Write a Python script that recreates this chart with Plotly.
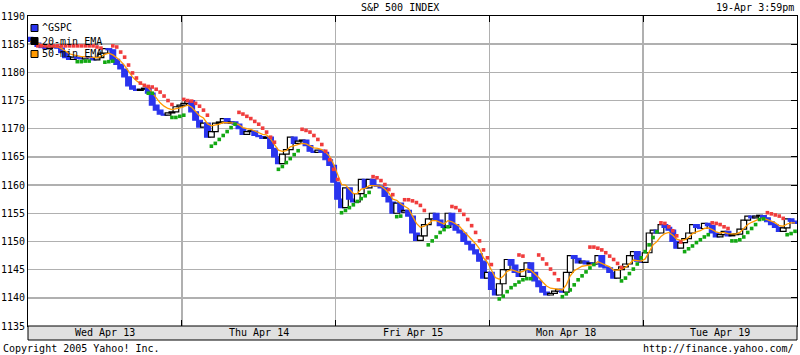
import plotly.graph_objects as go

# ---------------- data ----------------
day_labels = ["Wed Apr 13", "Thu Apr 14", "Fri Apr 15", "Mon Apr 18", "Tue Apr 19"]
bars_per_day = 39
y_ticks = [1135, 1140, 1145, 1150, 1155, 1160, 1165, 1170, 1175, 1180, 1185, 1190]

first_open = 1186.2
close_wed = [1185.5, 1185.2, 1184.6, 1184.4, 1184.2, 1184.5, 1184.6, 1184.3, 1183.5, 1182.6,
             1182.3, 1182.7, 1182.5, 1182.4, 1182.8, 1182.6, 1182.2, 1182.6, 1183.4, 1184.2,
             1184.0, 1182.3, 1181.4, 1180.6, 1179.2, 1177.6, 1177.0, 1176.8, 1177.0, 1177.2,
             1176.3, 1174.2, 1173.3, 1172.6, 1172.4, 1172.8, 1173.0, 1173.9, 1174.2]
close_thu = [1174.5, 1175.0, 1173.0, 1171.5, 1170.3, 1171.0, 1168.5, 1169.5, 1171.0, 1171.2,
             1171.8, 1171.0, 1171.2, 1170.8, 1170.0, 1169.0, 1169.5, 1169.6, 1168.8, 1168.6,
             1168.3, 1168.5, 1166.5, 1165.0, 1163.8, 1165.5, 1166.3, 1168.5, 1167.4, 1167.8,
             1168.0, 1167.0, 1166.0, 1165.8, 1166.2, 1165.8, 1164.5, 1163.5, 1160.5]
close_fri = [1157.5, 1156.0, 1159.5, 1157.5, 1157.0, 1158.5, 1161.0, 1159.5, 1161.0, 1160.0,
             1159.8, 1159.5, 1158.0, 1157.0, 1155.0, 1156.8, 1155.2, 1155.5, 1154.5, 1151.5,
             1150.2, 1151.0, 1153.0, 1154.0, 1155.0, 1153.8, 1152.8, 1152.5, 1155.0, 1153.0,
             1152.0, 1151.5, 1150.0, 1149.5, 1148.5, 1147.8, 1146.5, 1143.5, 1144.5]
close_mon = [1141.5, 1140.5, 1142.5, 1145.0, 1146.8, 1145.8, 1144.5, 1143.8, 1145.0, 1146.2,
             1144.5, 1143.0, 1142.0, 1141.0, 1140.5, 1140.8, 1141.2, 1141.5, 1141.0, 1144.5,
             1147.5, 1147.0, 1146.2, 1146.5, 1146.0, 1146.2, 1146.0, 1147.5, 1145.5, 1145.3,
             1144.5, 1143.5, 1145.0, 1145.5, 1146.0, 1147.5, 1148.2, 1146.5, 1146.3]
close_tue = [1148.0, 1151.5, 1152.0, 1151.5, 1153.0, 1152.5, 1152.0, 1150.0, 1148.8, 1149.8,
             1150.5, 1151.5, 1153.0, 1152.5, 1152.3, 1153.2, 1152.8, 1151.5, 1150.8, 1151.2,
             1151.8, 1151.0, 1151.2, 1151.3, 1152.2, 1153.8, 1154.5, 1154.2, 1154.5, 1154.6,
             1154.2, 1153.5, 1153.0, 1152.5, 1151.8, 1152.4, 1154.0, 1153.6, 1153.2]

ema_wed = [1185.5, 1185.4, 1185.2, 1184.9, 1184.7, 1184.6, 1184.6, 1184.5, 1184.2, 1183.7,
           1183.3, 1183.1, 1182.9, 1182.8, 1182.8, 1182.7, 1182.6, 1182.6, 1182.8, 1183.2,
           1183.4, 1183.1, 1182.6, 1182.0, 1181.2, 1180.1, 1179.2, 1178.5, 1178.0, 1177.8,
           1177.3, 1176.4, 1175.5, 1174.6, 1174.0, 1173.6, 1173.4, 1173.5, 1173.7]
ema_thu = [1173.9, 1174.2, 1173.8, 1173.1, 1172.3, 1171.9, 1170.9, 1170.5, 1170.6, 1170.8,
           1171.1, 1171.1, 1171.1, 1171.0, 1170.7, 1170.2, 1170.0, 1169.9, 1169.6, 1169.3,
           1169.0, 1168.9, 1168.2, 1167.2, 1166.2, 1166.0, 1166.1, 1166.8, 1167.0, 1167.2,
           1167.4, 1167.3, 1166.9, 1166.6, 1166.5, 1166.3, 1165.8, 1165.1, 1163.7]
ema_fri = [1161.8, 1160.1, 1160.0, 1159.2, 1158.5, 1158.5, 1159.3, 1159.4, 1159.9, 1159.9,
           1159.9, 1159.8, 1159.3, 1158.6, 1157.5, 1157.3, 1156.7, 1156.3, 1155.8, 1154.5,
           1153.2, 1152.5, 1152.7, 1153.1, 1153.7, 1153.7, 1153.4, 1153.1, 1153.7, 1153.5,
           1153.1, 1152.6, 1151.8, 1151.1, 1150.3, 1149.6, 1148.7, 1147.1, 1146.3]
ema_mon = [1144.9, 1143.6, 1143.3, 1143.8, 1144.7, 1145.0, 1144.8, 1144.5, 1144.7, 1145.1,
           1144.9, 1144.3, 1143.6, 1142.8, 1142.1, 1141.7, 1141.6, 1141.6, 1141.4, 1142.3,
           1143.9, 1144.8, 1145.2, 1145.6, 1145.7, 1145.8, 1145.9, 1146.4, 1146.1, 1145.9,
           1145.5, 1144.9, 1144.9, 1145.1, 1145.4, 1146.0, 1146.7, 1146.6, 1146.5]
ema_tue = [1146.9, 1148.3, 1149.4, 1150.0, 1150.9, 1151.4, 1151.6, 1151.1, 1150.4, 1150.2,
           1150.3, 1150.7, 1151.4, 1151.7, 1151.9, 1152.3, 1152.4, 1152.1, 1151.7, 1151.5,
           1151.6, 1151.4, 1151.3, 1151.3, 1151.6, 1152.3, 1153.0, 1153.4, 1153.7, 1154.0,
           1154.1, 1153.9, 1153.6, 1153.3, 1152.8, 1152.7, 1153.1, 1153.3, 1153.3]

# stop dots: (first bar index, values)
red_dots = [
    (2, [1184.7, 1184.7, 1184.7, 1184.7, 1184.7, 1184.7, 1184.7, 1184.7, 1184.7, 1184.7,
         1184.7, 1184.7, 1184.7, 1184.7, 1184.7, 1184.5, 1184.3]),
    (21, [1184.7, 1184.5, 1183.6, 1182.7, 1181.3, 1179.9, 1179.0, 1178.1, 1177.7, 1177.5,
          1177.4, 1177.0, 1176.5, 1175.8, 1175.0, 1174.3]),
    (39, [1175.2, 1175.0, 1174.9, 1174.5, 1174.0, 1173.3, 1172.4]),
    (53, [1172.9, 1172.6, 1172.2, 1171.8, 1171.3, 1170.8, 1170.1, 1169.4, 1168.5, 1167.6]),
    (69, [1169.9, 1169.7, 1169.4, 1168.8, 1168.1, 1167.2, 1166.0, 1164.5, 1162.8, 1161.0]),
    (87, [1161.5, 1161.3, 1160.8, 1160.1, 1159.2, 1158.3]),
    (95, [1157.4, 1157.4, 1157.2, 1156.9, 1156.4, 1155.5]),
    (107, [1156.2, 1156.0, 1155.5, 1154.8, 1153.9, 1152.8, 1151.6, 1150.1, 1148.5, 1147.1, 1145.9]),
    (124, [1147.6, 1147.4]),
    (129, [1147.6, 1146.9, 1146.0, 1145.1, 1144.3, 1143.2]),
    (142, [1149.0, 1149.0, 1148.8, 1148.5, 1148.0, 1147.4, 1146.8, 1146.1, 1145.4]),
    (160, [1153.3, 1153.2, 1152.6, 1151.9, 1151.0, 1149.9]),
    (173, [1153.3, 1153.2, 1153.0, 1152.6, 1152.3]),
    (187, [1155.1, 1154.9, 1154.7, 1154.5, 1154.1]),
]
green_dots = [
    (12, [1181.9, 1181.9, 1182.0, 1182.0]),
    (19, [1181.8, 1181.9, 1182.0]),
    (30, [1176.3, 1176.3]),
    (36, [1172.0, 1172.0, 1172.2, 1172.4]),
    (46, [1166.9, 1167.4, 1168.1, 1168.8, 1169.5, 1170.2, 1170.8]),
    (63, [1162.8, 1163.3, 1164.0, 1164.7, 1165.4, 1166.1]),
    (79, [1155.1, 1155.5, 1156.0, 1156.5, 1157.1, 1157.6, 1158.1, 1158.7]),
    (93, [1154.4, 1154.5]),
    (101, [1149.4, 1150.1, 1150.8, 1151.6, 1152.1, 1152.6]),
    (119, [1139.8, 1140.3, 1141.1, 1141.8, 1142.3, 1142.8, 1143.2, 1143.4, 1143.4]),
    (135, [1140.2, 1140.7, 1141.4, 1142.3, 1143.2, 1143.9, 1144.6, 1145.3, 1145.9]),
    (150, [1143.0, 1143.5, 1144.3, 1145.1, 1146.0, 1147.1, 1148.2, 1149.4, 1150.7, 1151.7]),
    (166, [1148.2, 1148.7, 1149.2, 1149.8, 1150.3, 1150.8, 1151.2]),
    (178, [1150.1, 1150.1, 1150.3, 1150.8, 1151.6, 1152.3, 1153.0, 1153.9, 1154.0]),
    (192, [1151.2, 1151.4, 1151.8]),
]

# ---------------- build ----------------
closes = close_wed + close_thu + close_fri + close_mon + close_tue
emas = ema_wed + ema_thu + ema_fri + ema_mon + ema_tue
opens = [first_open] + closes[:-1]
n = len(closes)
idx = list(range(n))

BLUE = "#2a34ee"
body_base = [min(o, c) for o, c in zip(opens, closes)]
body_h = [max(abs(c - o), 0.15) for o, c in zip(opens, closes)]
fills = ["white" if c >= o else BLUE for o, c in zip(opens, closes)]
edges = ["black" if c >= o else BLUE for o, c in zip(opens, closes)]


def expand(segs):
    xs, ys = [], []
    for start, vals in segs:
        for k, v in enumerate(vals):
            xs.append(start + k)
            ys.append(v)
    return xs, ys


rx, ry = expand(red_dots)
gx, gy = expand(green_dots)

fig = go.Figure()
fig.add_trace(go.Bar(x=idx, y=body_h, base=body_base, width=1.45,
                     marker=dict(color=fills, line=dict(color=edges, width=1.2)),
                     hoverinfo="skip"))
fig.add_trace(go.Scatter(x=idx, y=emas, mode="lines",
                         line=dict(color="#ff9900", width=1.3), hoverinfo="skip"))
fig.add_trace(go.Scatter(x=rx, y=ry, mode="markers",
                         marker=dict(symbol="square", size=3.6, color="#f03c3c", line=dict(width=0)),
                         hoverinfo="skip"))
fig.add_trace(go.Scatter(x=gx, y=gy, mode="markers",
                         marker=dict(symbol="square", size=3.6, color="#12a812", line=dict(width=0)),
                         hoverinfo="skip"))
# invisible trace for right-side tick axis
fig.add_trace(go.Scatter(x=[0], y=[1160], yaxis="y2", mode="markers",
                         marker=dict(opacity=0), hoverinfo="skip"))

MONO = "DejaVu Sans Mono"
PLOT_W = 769.0
PLOT_H = 310.0
day_bounds = [bars_per_day * k - 0.5 for k in range(1, len(day_labels))]

fig.update_layout(
    width=800, height=355,
    margin=dict(l=28, r=3, t=16, b=29, autoexpand=False),
    paper_bgcolor="white", plot_bgcolor="white",
    showlegend=False, barmode="overlay", hovermode=False,
    font=dict(family=MONO, size=10, color="black"),
    xaxis=dict(range=[-0.5, n - 0.5], tickvals=day_bounds, showticklabels=False,
               showgrid=True, gridcolor="#b0b0b0", gridwidth=1.5,
               ticks="inside", ticklen=6, tickcolor="black", mirror="ticks",
               showline=True, linecolor="black", linewidth=1, zeroline=False,
               fixedrange=True, automargin=False),
    yaxis=dict(range=[1135, 1190], tickvals=y_ticks, showgrid=True,
               gridcolor="#b0b0b0", gridwidth=1.5, ticks="", showline=True,
               linecolor="black", linewidth=1, mirror=True, zeroline=False,
               tickfont=dict(family=MONO, size=10), fixedrange=True, automargin=False),
    yaxis2=dict(range=[1135, 1190], tickvals=y_ticks, overlaying="y", side="right",
                showticklabels=False, showgrid=False, ticks="inside", ticklen=6,
                tickcolor="black", zeroline=False, showline=False, fixedrange=True,
                automargin=False),
)

shapes = []
annotations = []
# bottom date band
band_h = 14 / PLOT_H
shapes.append(dict(type="rect", xref="paper", yref="paper", x0=0, x1=1, y0=-band_h, y1=0,
                   fillcolor="#e0e0e0", line=dict(color="black", width=1), layer="above"))
for k, lab in enumerate(day_labels):
    annotations.append(dict(x=bars_per_day * k + (bars_per_day - 1) / 2, xref="x",
                            y=-band_h / 2, yref="paper", text=lab, showarrow=False,
                            xanchor="center", yanchor="middle",
                            font=dict(family=MONO, size=10)))

# legend drawn inside the plot
leg = [("^GSPC", BLUE, 28), ("20-min EMA", "black", 41), ("50-min EMA", "#ff9900", 54)]
for text, col, py in leg:
    yc = (326 - py) / PLOT_H
    hh = 3.5 / PLOT_H
    shapes.append(dict(type="rect", xref="paper", yref="paper",
                       x0=3 / PLOT_W, x1=10 / PLOT_W, y0=yc - hh, y1=yc + hh,
                       fillcolor=col, line=dict(color="black", width=1), layer="above"))
    annotations.append(dict(x=12 / PLOT_W, xref="paper", y=yc, yref="paper", text=text,
                            showarrow=False, xanchor="left", yanchor="middle",
                            font=dict(family=MONO, size=10)))

# title line
annotations.append(dict(x=(400 - 28) / PLOT_W, xref="paper", y=1 + 8 / PLOT_H, yref="paper",
                        text="S&amp;P 500 INDEX", showarrow=False, xanchor="center",
                        yanchor="middle", font=dict(family=MONO, size=10)))
annotations.append(dict(x=(796 - 28) / PLOT_W, xref="paper", y=1 + 8 / PLOT_H, yref="paper",
                        text="19-Apr 3:59pm", showarrow=False, xanchor="right",
                        yanchor="middle", font=dict(family=MONO, size=10)))
# footer
annotations.append(dict(x=-27 / PLOT_W, xref="paper", y=-22 / PLOT_H, yref="paper",
                        text="Copyright 2005 Yahoo! Inc.", showarrow=False, xanchor="left",
                        yanchor="middle", font=dict(family=MONO, size=10)))
annotations.append(dict(x=(796 - 28) / PLOT_W, xref="paper", y=-22 / PLOT_H, yref="paper",
                        text="http://finance.yahoo.com/", showarrow=False, xanchor="right",
                        yanchor="middle", font=dict(family=MONO, size=10)))

fig.update_layout(shapes=shapes, annotations=annotations)
fig.write_html("out.html", config={"displayModeBar": False, "staticPlot": True},
               post_script="document.body.style.margin='0';document.body.style.overflow='hidden';")
